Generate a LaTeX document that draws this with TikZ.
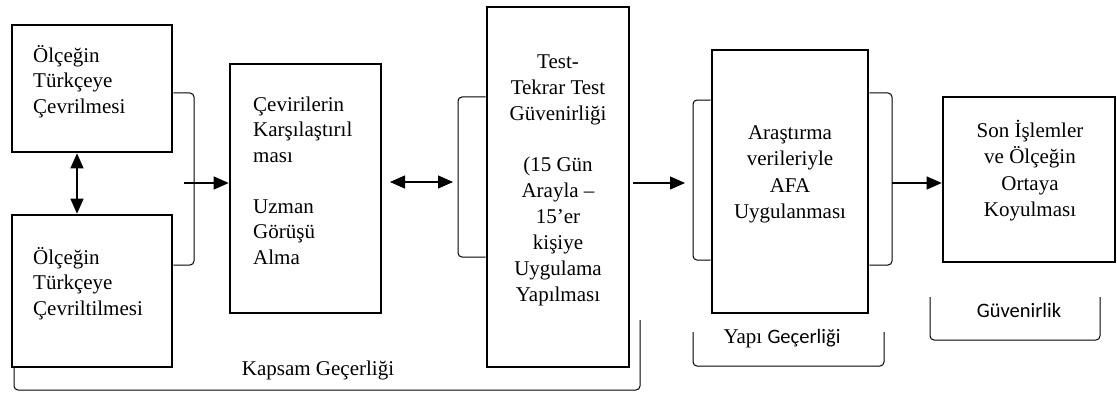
\documentclass[tikz,border=0pt]{standalone}
\usepackage{fontspec}
\setmainfont{Liberation Serif}
\setsansfont{Carlito}
\usetikzlibrary{arrows.meta}
\begin{document}
\begin{tikzpicture}[x=1pt,y=-1pt,
  box/.style={draw, line width=2.6pt, inner sep=0pt},
  txt/.style={inner sep=0pt, font=\fontsize{21}{25.5}\selectfont},
  conn/.style={line width=1.1pt},
  tip/.tip={Triangle[length=15pt,width=13pt]},
  arr/.style={conn, -tip},
  darr/.style={conn, tip-tip},
  brk/.style={line width=1pt, rounded corners=4pt, draw=black}]
\useasboundingbox (0,0) rectangle (1117,396);

% boxes
\node[box, minimum width=160pt, minimum height=127pt] (b1) at (92,88.5) {};
\node[box, minimum width=160pt, minimum height=152pt] (b2) at (92,291) {};
\node[box, minimum width=151pt, minimum height=249pt] (b3) at (305.5,188.5) {};
\node[box, minimum width=142pt, minimum height=360pt] (b4) at (558,187) {};
\node[box, minimum width=156pt, minimum height=263pt] (b5) at (790,181.5) {};
\node[box, minimum width=172pt, minimum height=165pt] (b6) at (1029,179.5) {};

% texts
\node[txt, anchor=north west, align=left] (t1) at (33,42)
  {\rule{0pt}{20pt}Ölçeğin\\Türkçeye\\Çevrilmesi};
\node[txt, anchor=north west, align=left] (t2) at (33,244)
  {\rule{0pt}{20pt}Ölçeğin\\Türkçeye\\Çevriltilmesi};
\node[txt, anchor=north west, align=left] (t3) at (253,91)
  {\rule{0pt}{20pt}Çevirilerin\\Karşılaştırıl\\ması\\[25.5pt]Uzman\\Görüşü\\Alma};
\node[txt, anchor=north, align=center, font=\fontsize{21}{25.9}\selectfont] (t4) at (558,48)
  {\rule{0pt}{20pt}Test-\\Tekrar Test\\Güvenirliği\\[25.9pt](15 Gün\\Arayla –\\15’er\\kişiye\\Uygulama\\Yapılması};
\node[txt, anchor=north, align=center, font=\fontsize{21}{26.5}\selectfont] (t5) at (790,119)
  {\rule{0pt}{20pt}Araştırma\\verileriyle\\AFA\\Uygulanması};
\node[txt, anchor=north, align=center, font=\fontsize{21}{26.5}\selectfont] (t6) at (1030,117)
  {\rule{0pt}{20pt}Son İşlemler\\ve Ölçeğin\\Ortaya\\Koyulması};

% labels
\node[inner sep=0pt, anchor=base, font=\fontsize{21}{25}\selectfont] (l1) at (318,375) {Kapsam Geçerliği};
\node[inner sep=0pt, anchor=base, font=\fontsize{21}{25}\selectfont] (l2) at (782,343) {Yapı {\sffamily\fontsize{20.5}{25}\selectfont Geçerliği}};
\node[inner sep=0pt, anchor=base, font=\sffamily\fontsize{20.5}{25}\selectfont] (l3) at (1019,317) {Güvenirlik};

% brackets
\draw[brk] (b1.east |- 0,93) -- (194,93) -- (194,265) -- (b2.east |- 0,265);
\draw[brk] (b4.west |- 0,97) -- (458,97) -- (458,257) -- (b4.west |- 0,257);
\draw[brk] (b5.west |- 0,100) -- (693,100) -- (693,260) -- (b5.west |- 0,260);
\draw[brk] (b5.east |- 0,93) -- (892,93) -- (892,265) -- (b5.east |- 0,265);
\draw[brk] (14,367) -- (14,390) -- (640,390) -- (640,320);
\draw[brk] (693,332) -- (693,366) -- (884,366) -- (884,332);
\draw[brk] (930,297) -- (930,340) -- (1100,340) -- (1100,297);

% connectors
\coordinate (c1) at (184,183);
\coordinate (c2a) at (390,182);
\coordinate (c2b) at (453,182);
\coordinate (c3a) at (633,183);
\coordinate (c3b) at (685,183);
\coordinate (c4) at (892,183);
\draw[darr] (b1.south -| 77,0) -- (b2.north -| 77,0);
\draw[arr] (c1) -- (b3.west |- c1);
\draw[darr] (c2a) -- (c2b);
\draw[arr] (c3a) -- (c3b);
\draw[arr] (c4) -- (b6.west |- c4);
\end{tikzpicture}
\end{document}
